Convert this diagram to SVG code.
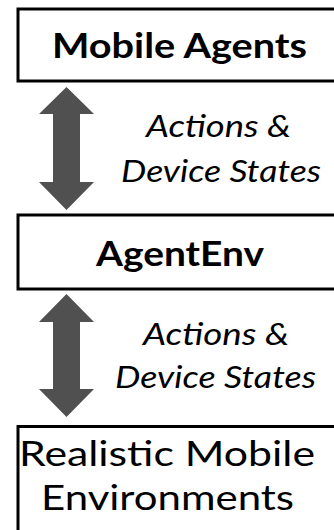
<svg xmlns="http://www.w3.org/2000/svg" width="334" height="530" viewBox="0 0 334 530">
<style>
.box{fill:#fff;stroke:#000;stroke-width:3}
.arrow{fill:#505050;stroke:none}
.t{font-family:Lato,"Liberation Sans",sans-serif;fill:#000}
.b{font-weight:bold;font-size:35px}
.i{font-style:italic;font-size:30px}
.r{font-size:34px}
</style>
<rect width="334" height="530" fill="#fff"/>
<g id="connectors">
<polygon class="arrow" points="66.5,87 94,114 80,114 80,182 94,182 66.5,210 39,182 53,182 53,114 39,114"/>
<polygon class="arrow" points="66.5,294 94,322 80,322 80,389 94,389 66.5,417 39,389 53,389 53,322 39,322"/>
</g>
<g id="labels">
<text class="t i" x="146" y="137" textLength="145" lengthAdjust="spacingAndGlyphs">Actions &amp;</text>
<text class="t i" x="121" y="182" textLength="200" lengthAdjust="spacingAndGlyphs">Device States</text>
<text class="t i" x="143" y="345" textLength="146" lengthAdjust="spacingAndGlyphs">Actions &amp;</text>
<text class="t i" x="115" y="388" textLength="201" lengthAdjust="spacingAndGlyphs">Device States</text>
</g>
<g id="mobile-agents">
<rect class="box" x="18" y="9" width="330" height="72"/>
<text class="t b" x="52" y="58" textLength="255" lengthAdjust="spacingAndGlyphs">Mobile Agents</text>
</g>
<g id="agentenv">
<rect class="box" x="18" y="215" width="330" height="74"/>
<text class="t b" x="96" y="266" textLength="168" lengthAdjust="spacingAndGlyphs">AgentEnv</text>
</g>
<g id="realistic-mobile-environments">
<rect class="box" x="18" y="426.5" width="330" height="120"/>
<text class="t r" x="19" y="466" textLength="296" lengthAdjust="spacingAndGlyphs">Realistic Mobile</text>
<text class="t r" x="41" y="510" textLength="253" lengthAdjust="spacingAndGlyphs">Environments</text>
</g>
</svg>
